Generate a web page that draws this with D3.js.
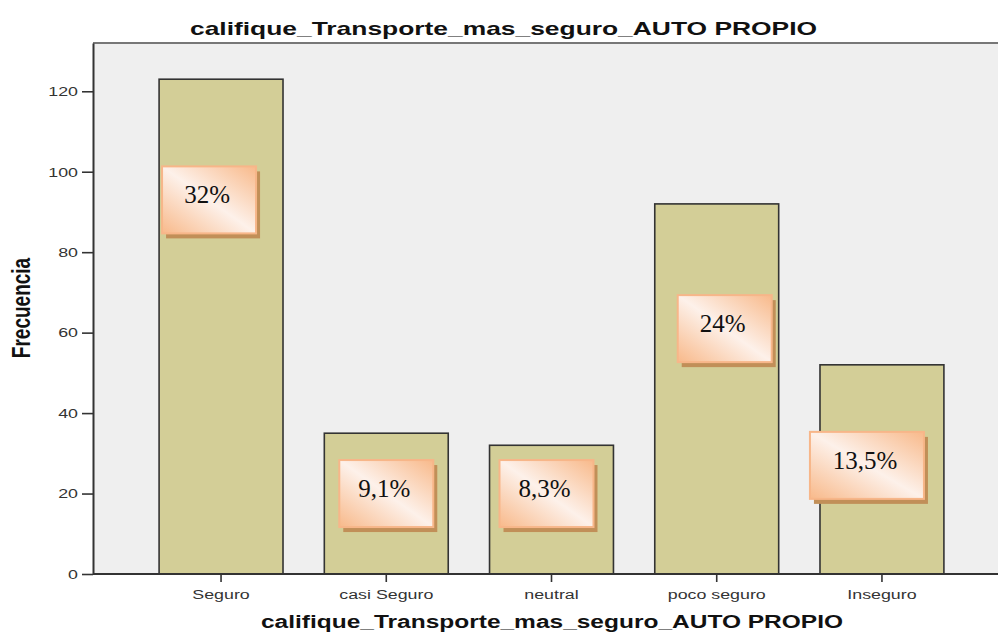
<!DOCTYPE html>
<html>
<head>
<meta charset="utf-8">
<script src="https://cdn.jsdelivr.net/npm/d3@7"></script>
<style>
  body { margin: 0; background: #fff; }
  svg { display: block; }
</style>
</head>
<body>
<div id="chart"></div>
<script>
// data
const categories = ["Seguro", "casi Seguro", "neutral", "poco seguro", "Inseguro"];
const counts = [123, 35, 32, 92, 52];
const pctLabels = ["32%", "9,1%", "8,3%", "24%", "13,5%"];
const labelValues = [93, 20, 20, 61, 27];   // where each call-out sits, in y units
const yTicks = [0, 20, 40, 60, 80, 100, 120];
const chartTitle = "califique_Transporte_mas_seguro_AUTO PROPIO";
const yTitle = "Frecuencia";

// call-out layout (hand placed in the original)
const nudge = [-12, 0, -5, 8, -15];
const boxW = [94, 94, 94, 94, 114];
const boxH = 67;

// the original picture is stretched sideways, so text is too
const stretch = 1.32;

const width = 998, height = 632;
const plot = { left: 93, right: 1010, top: 43, bottom: 574 };

const svg = d3.select("#chart").append("svg")
    .attr("width", width)
    .attr("height", height);

const defs = svg.append("defs");
const grad = defs.append("linearGradient")
    .attr("id", "peach")
    .attr("x1", 0).attr("y1", 1)
    .attr("x2", 1).attr("y2", 0);
grad.append("stop").attr("offset", "0%").attr("stop-color", "#f8b98a");
grad.append("stop").attr("offset", "50%").attr("stop-color", "#fdf1ea");
grad.append("stop").attr("offset", "100%").attr("stop-color", "#f8b98a");

const x = d3.scaleBand()
    .domain(categories)
    .range([plot.left, plot.right])
    .paddingInner(0.25)
    .paddingOuter(0.4);

const y = d3.scaleLinear()
    .domain([0, 132])
    .range([plot.bottom, plot.top]);

// plot background
svg.append("rect")
    .attr("x", plot.left)
    .attr("y", plot.top)
    .attr("width", plot.right - plot.left)
    .attr("height", plot.bottom - plot.top)
    .attr("fill", "#efefef");

// top frame line
svg.append("line")
    .attr("x1", plot.left).attr("x2", plot.right)
    .attr("y1", plot.top).attr("y2", plot.top)
    .attr("stroke", "#777")
    .attr("stroke-width", 2);

// bars
svg.append("g")
    .selectAll("rect")
    .data(categories)
    .enter()
    .append("rect")
    .attr("x", d => x(d))
    .attr("y", (d, i) => y(counts[i]))
    .attr("width", x.bandwidth())
    .attr("height", (d, i) => y(0) - y(counts[i]))
    .attr("fill", "#d3ce97")
    .attr("stroke", "#333")
    .attr("stroke-width", 1.6);

// axes
const yAxis = svg.append("g")
    .attr("transform", "translate(" + plot.left + ",0)")
    .call(d3.axisLeft(y).tickValues(yTicks).tickSize(11).tickPadding(3).tickSizeOuter(0));

const xAxis = svg.append("g")
    .attr("transform", "translate(0," + plot.bottom + ")")
    .call(d3.axisBottom(x).tickSize(8).tickPadding(7).tickSizeOuter(0));

[yAxis, xAxis].forEach(function (g) {
    g.select(".domain").attr("stroke", "#333").attr("stroke-width", 2);
    g.selectAll(".tick line").attr("stroke", "#333").attr("stroke-width", 1.6);
    g.selectAll(".tick text")
        .attr("fill", "#333")
        .attr("transform", "scale(" + stretch + ",1)")
        .style("font-family", "'Liberation Sans', Arial, sans-serif")
        .style("font-size", "13.5px");
});
yAxis.selectAll(".tick text").attr("x", -15 / stretch);
// x axis line spans the whole plot width
xAxis.select(".domain").attr("d", "M" + plot.left + ",0H" + plot.right);

// titles
svg.append("text")
    .attr("x", 190)
    .attr("y", 35)
    .attr("textLength", 627)
    .attr("lengthAdjust", "spacingAndGlyphs")
    .style("font-family", "'Liberation Sans', Arial, sans-serif")
    .style("font-weight", "bold")
    .style("font-size", "19px")
    .attr("fill", "#111")
    .text(chartTitle);

svg.append("text")
    .attr("x", 261)
    .attr("y", 628)
    .attr("textLength", 582)
    .attr("lengthAdjust", "spacingAndGlyphs")
    .style("font-family", "'Liberation Sans', Arial, sans-serif")
    .style("font-weight", "bold")
    .style("font-size", "18px")
    .attr("fill", "#111")
    .text(chartTitle);

svg.append("text")
    .attr("transform", "translate(30,308) scale(" + stretch + ",1) rotate(-90)")
    .attr("text-anchor", "middle")
    .style("font-family", "'Liberation Sans', Arial, sans-serif")
    .style("font-weight", "bold")
    .style("font-size", "19px")
    .attr("fill", "#111")
    .text(yTitle);

// percentage call-outs
const callouts = svg.append("g")
    .selectAll("g")
    .data(categories)
    .enter()
    .append("g")
    .attr("transform", function (d, i) {
        const cx = x(d) + x.bandwidth() / 2 + nudge[i];
        return "translate(" + (cx - boxW[i] / 2) + "," + (y(labelValues[i]) - boxH / 2) + ")";
    });

callouts.append("rect")
    .attr("x", 4).attr("y", 5)
    .attr("width", (d, i) => boxW[i])
    .attr("height", boxH)
    .attr("fill", "#c18f58");

callouts.append("rect")
    .attr("width", (d, i) => boxW[i])
    .attr("height", boxH)
    .attr("fill", "url(#peach)")
    .attr("stroke", "#f7b689")
    .attr("stroke-width", 2);

callouts.append("text")
    .attr("x", (d, i) => boxW[i] / 2 - 2)
    .attr("y", 37)
    .attr("text-anchor", "middle")
    .style("font-family", "'Liberation Serif', 'Times New Roman', serif")
    .style("font-size", "25px")
    .attr("fill", "#111")
    .text((d, i) => pctLabels[i]);
</script>
</body>
</html>
